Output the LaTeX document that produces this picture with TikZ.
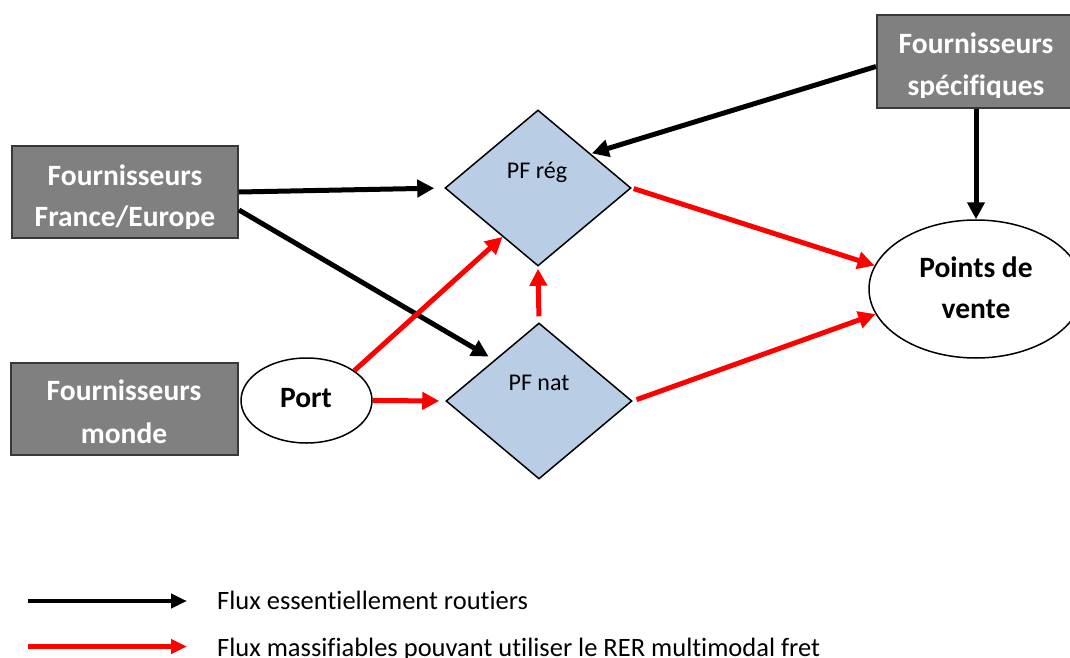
\documentclass[tikz,border=0pt]{standalone}
\usepackage{fontspec}
\setmainfont{Carlito}[Ligatures=NoCommon]
\usetikzlibrary{shapes.geometric,arrows.meta}
\definecolor{boxgray}{HTML}{808080}
\definecolor{boxline}{HTML}{383838}
\definecolor{hubblue}{HTML}{B9CDE5}
\definecolor{flowred}{HTML}{FF0000}
\begin{document}
\begin{tikzpicture}[x=1pt,y=-1pt,
  supplier/.style={rectangle,draw=boxline,line width=2pt,fill=boxgray,inner sep=0pt},
  boxtext/.style={text=white,font=\fontsize{29.5}{35}\selectfont\bfseries,anchor=base,inner sep=0pt},
  hub/.style={diamond,draw=black,line width=1.5pt,fill=hubblue,inner sep=0pt,
    minimum width=186pt,minimum height=156pt},
  hubtext/.style={font=\fontsize{24}{29}\selectfont,anchor=base,inner sep=0pt},
  site/.style={ellipse,draw=black,line width=1.5pt,fill=white,inner sep=0pt},
  sitetext/.style={font=\fontsize{29.5}{35}\selectfont\bfseries,anchor=base,inner sep=0pt},
  road/.style={line width=5pt,draw=black,-{Triangle[length=17pt,width=17pt]}},
  mass/.style={road,draw=flowred},
  legroad/.style={line width=4.5pt,draw=black,-{Triangle[length=16pt,width=14pt]}},
  legmass/.style={legroad,draw=flowred},
  legtext/.style={font=\fontsize{26.5}{32}\selectfont,anchor=base west,inner sep=0pt}]

\clip (0,0) rectangle (1070,658);
\fill[white] (0,0) rectangle (1070,658);

% supplier boxes
\node[supplier,minimum width=226pt,minimum height=92pt] (fe) at (125,192) {};
\node[supplier,minimum width=227pt,minimum height=92pt] (wm) at (124.5,409) {};
\node[supplier,minimum width=195pt,minimum height=93pt] (sp) at (974.5,61.5) {};

\begin{scope}
  \clip (fe.north west) rectangle ([yshift=11pt]fe.south east);
  \node[boxtext] (fe1) at (125,185) {Fournisseurs};
  \node[boxtext] (fe2) at (125,226) {France/Europe};
\end{scope}
\begin{scope}
  \clip (sp.north west) rectangle ([yshift=11pt]sp.south east);
  \node[boxtext] (sp1) at (976,54) {Fournisseurs};
  \node[boxtext] (sp2) at (976,95.5) {spécifiques};
\end{scope}
\node[boxtext] (wm1) at (124,400.5) {Fournisseurs};
\node[boxtext] (wm2) at (124,443) {monde};

% platforms
\node[hub] (reg) at (538,188) {};
\node[hub] (nat) at (539,401) {};
\node[hubtext] (regt) at (537,178) {PF rég};
\node[hubtext] (natt) at (539,390.5) {PF nat};

% port and points of sale
\node[site,minimum width=131pt,minimum height=85pt] (port) at (306.5,400.5) {};
\node[sitetext] (portt) at (306,407) {Port};
\node[site,minimum width=214pt,minimum height=138pt] (pv) at (976,289) {};
\node[sitetext] (pv1) at (976,277) {Points de};
\node[sitetext] (pv2) at (976,318) {vente};

% road flows
\draw[road,shorten >=10pt] (fe.east) -- (reg.west);
\draw[road,shorten >=4pt] ([yshift=-18pt]fe.east) -- ([yshift=3pt]nat.north west);
\draw[road,shorten >=1pt] ([yshift=-5pt]sp.west) -- (reg.33);
\draw[road] (pv.north |- sp.south) -- (pv.north);

% massifiable flows
\draw[mass,shorten <=2pt] (reg.east) -- (pv.167);
\draw[mass,shorten <=4pt] (nat.east) -- (pv.194);
\draw[mass,shorten <=6pt,shorten >=2pt] (nat.north) -- (reg.south);
\draw[mass] (port.32) -- (reg.234);
\draw[mass,shorten >=6pt] (port.east) -- (nat.west);

% legend
\coordinate (l1a) at (28,601);
\coordinate (l1b) at (187,601);
\coordinate (l2a) at (28,646.5);
\coordinate (l2b) at (187,646.5);
\draw[legroad] (l1a) -- (l1b);
\draw[legmass] (l2a) -- (l2b);
\node[legtext] (leg1) at (217,609.5) {Flux essentiellement routiers};
\node[legtext] (leg2) at (217,656.5) {Flux massifiables pouvant utiliser le RER multimodal fret};
\end{tikzpicture}
\end{document}
